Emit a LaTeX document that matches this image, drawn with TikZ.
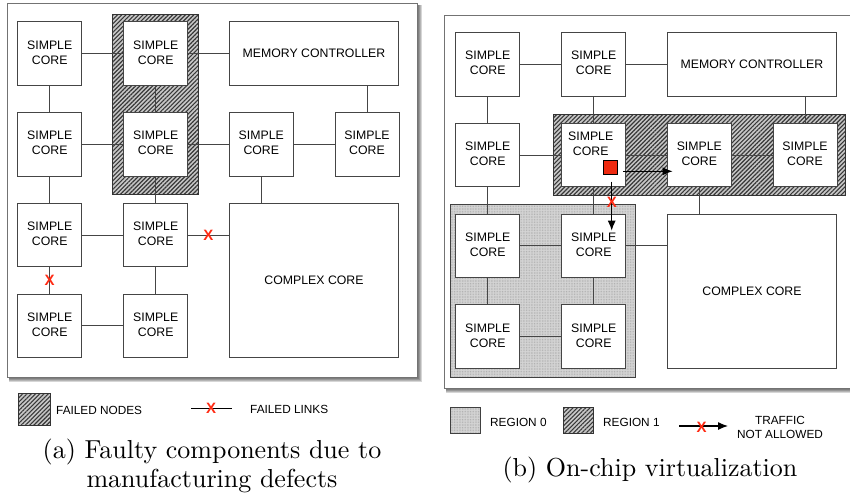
\documentclass[tikz,border=0pt]{standalone}
\usepackage{fontspec}
\setsansfont{Liberation Sans}
\newfontfamily\capfont{lmroman10-regular.otf}
\usetikzlibrary{patterns.meta,arrows.meta}

\definecolor{edge}{HTML}{454545}
\definecolor{xred}{HTML}{FF2B14}
\definecolor{pktred}{HTML}{EE2A10}

\newcommand\corefont{\sffamily\fontsize{12.3}{15}\selectfont}
\newcommand\legfont{\sffamily\fontsize{11.8}{14}\selectfont}
\newcommand\sctext{\begin{tabular}{@{}c@{}}SIMPLE\\CORE\end{tabular}}

% One 4x4 tile of cores; #1 is the text of the second core in row two
\newcommand\coregrid[1]{%
  \node[core] (c11) at (49.7,53.5)   {\sctext};
  \node[core] (c12) at (155.7,53.5)  {\sctext};
  \node[wide] (mem) at (314,53.5)    {MEMORY CONTROLLER};
  \node[core] (c21) at (49.7,144.3)  {\sctext};
  \node[core] (c22) at (155.7,144.3) {#1};
  \node[core] (c23) at (261.3,144.3) {\sctext};
  \node[core] (c24) at (367,144.3)   {\sctext};
  \node[core] (c31) at (49.7,235)    {\sctext};
  \node[core] (c32) at (155.7,235)   {\sctext};
  \node[wide, minimum height=154pt] (cx) at (314,280.3) {COMPLEX CORE};
  \node[core] (c41) at (49.7,325.7)  {\sctext};
  \node[core] (c42) at (155.7,325.7) {\sctext};
  \draw[link] (c11) -- (c12);
  \draw[link] (c12) -- (mem);
  \draw[link] (c11) -- (c21);
  \draw[link] (c12) -- (c22);
  \draw[link] (c24.north) -- (c24.north |- mem.south);
  \draw[link] (c21) -- (c22);
  \draw[link] (c22) -- (c23);
  \draw[link] (c23) -- (c24);
  \draw[link] (c21) -- (c31);
  \draw[link] (c22) -- (c32);
  \draw[link] (c23.south) -- (c23.south |- cx.north);
  \draw[link] (c31) -- (c32);
  \draw[link] (c32.east) -- (c32.east -| cx.west);
  \draw[link] (c31) -- (c41);
  \draw[link] (c32) -- (c42);
  \draw[link] (c41) -- (c42);
}

\tikzset{
  core/.style={draw=edge, fill=white, line width=0.8pt, minimum width=64pt,
    minimum height=63.5pt, inner sep=0pt, align=center, font=\corefont},
  wide/.style={core, minimum width=169.4pt},
  link/.style={draw=edge, line width=0.8pt},
  failed/.style={draw=black!80, line width=0.9pt,
    preaction={fill=black!22},
    pattern={Lines[angle=45, distance=3pt, line width=1.15pt]}, pattern color=black!78},
  region0/.style={draw=black!75, line width=0.9pt,
    preaction={fill=black!17},
    pattern={Dots[distance=1.6pt, radius=0.35pt]}, pattern color=black!40},
  xmark/.style={text=xred, font=\sffamily\bfseries\fontsize{15}{15}\selectfont, inner sep=0pt},
  legend/.style={font=\legfont, inner sep=0pt},
  panel/.style={draw=black!55, line width=0.9pt, fill=white},
  traffic/.style={draw=black, line width=1.2pt, -{Latex[length=10pt,width=8pt]}},
  caption/.style={font=\capfont\fontsize{26}{29}\selectfont, inner sep=0pt, align=center},
}

\begin{document}
\begin{tikzpicture}[x=1pt,y=-1pt]
\useasboundingbox (0,0) rectangle (850,493);
\clip (0,0) rectangle (850,493);

% drop shadows under both panels
\foreach \k in {1,...,5}{
  \fill[black, opacity=0.16] (9,5) rectangle (417+\k,377+\k);
  \fill[black, opacity=0.16] (446,17) rectangle (870,388+\k);
}
\path[panel] (7,3) rectangle (417,377);
\path[panel] (444,15) rectangle (870,388);

% left panel: failed column of nodes
\path[failed] (112.7,14.7) rectangle (198.7,194.3);
\begin{scope}[name prefix=a-]
  \coregrid{\sctext}
  \node[xmark] (x1) at (208.3,235) {X};
  \node[xmark] (x2) at (49.7,280.3) {X};
\end{scope}

% right panel: two virtual regions
\path[failed] (553.3,114) rectangle (845.3,195.7);
\path[region0] (450.7,204.3) rectangle (635.7,377.3);
\begin{scope}[shift={(438,10.8)}, name prefix=b-]
  \coregrid{\raisebox{10pt}[\height][\depth]{\sctext\hspace{6pt}}}
\end{scope}

% packet and its traffic
\node[draw=black, line width=0.6pt, fill=pktred, minimum size=14pt, inner sep=0pt] (pkt) at (610.5,167.3) {};
\coordinate (h0) at (623.3,171.3);
\coordinate (h1) at (672.7,171.3);
\coordinate (v0) at (611.7,181.7);
\coordinate (v1) at (611.7,230.7);
\draw[traffic] (h0) -- (h1);
\draw[traffic] (v0) -- (v1);
\node[xmark] (x3) at (611.9,202.7) {X};

% legend of the left panel
\path[failed] (18,393) rectangle (50,425);
\node[legend, anchor=west] (lg1) at (56,410) {FAILED NODES};
\coordinate (fl0) at (191,408);
\coordinate (fl1) at (232,408);
\draw[draw=black, line width=0.8pt] (fl0) -- (fl1);
\node[xmark] (x4) at (211,408.5) {X};
\node[legend, anchor=west] (lg2) at (250,409) {FAILED LINKS};
\node[caption] (capa) at (212,465.5) {(a) Faulty components due to\\manufacturing defects};

% legend of the right panel
\path[region0] (450,407) rectangle (480,433);
\node[legend, anchor=west] (lg3) at (490,422) {REGION 0};
\path[failed] (563,407) rectangle (593,433);
\node[legend, anchor=west] (lg4) at (603,422) {REGION 1};
\coordinate (ta0) at (679,426);
\coordinate (ta1) at (728,426);
\draw[traffic] (ta0) -- (ta1);
\node[xmark] (x5) at (701.7,427.5) {X};
\node[legend, align=center] (lg5) at (780,427) {TRAFFIC\\NOT ALLOWED};
\node[caption] (capb) at (650,470) {(b) On-chip virtualization};
\end{tikzpicture}
\end{document}
